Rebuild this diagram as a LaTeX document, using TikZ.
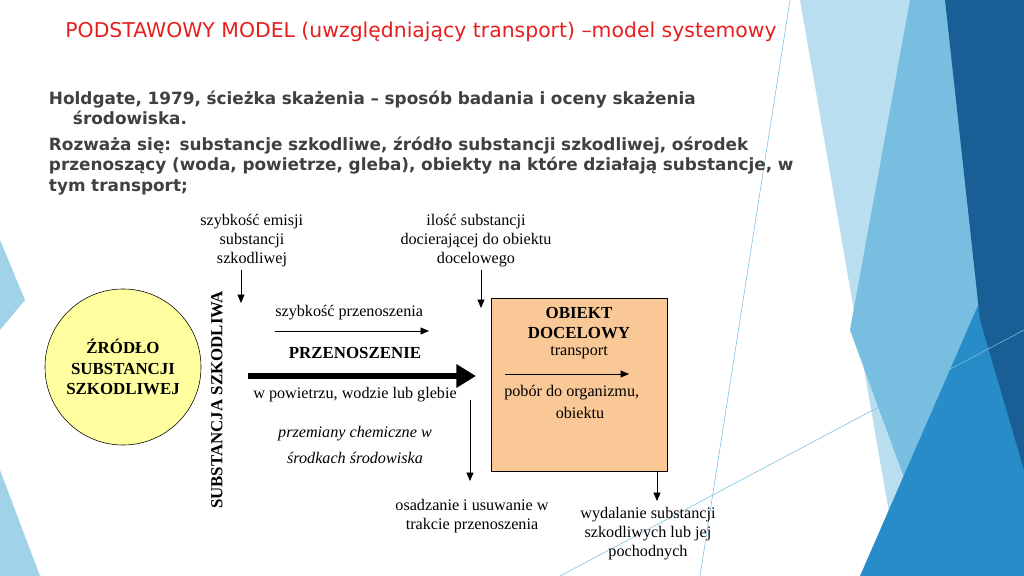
\documentclass[tikz,border=0pt]{standalone}
\usepackage{fontspec}
\setmainfont{Liberation Serif}
\newfontfamily\dejavu{DejaVu Sans}
\usetikzlibrary{arrows.meta}
\definecolor{titlered}{RGB}{230,30,30}
\definecolor{bodygray}{RGB}{64,64,64}
\definecolor{srcyellow}{RGB}{255,255,160}
\definecolor{boxorange}{RGB}{250,200,150}
\definecolor{bgA}{RGB}{120,190,225}
\definecolor{bgB}{RGB}{40,140,200}
\definecolor{bgC}{RGB}{185,222,240}
\definecolor{bgD}{RGB}{25,95,150}
\tikzset{
  lbl/.style={font=\fontsize{11.5}{13.5}\selectfont, align=center, inner sep=0pt},
  bold lbl/.style={lbl, font=\fontsize{12}{14.5}\selectfont\bfseries},
  flow/.style={-{Triangle[length=6pt,width=5pt]}, thin},
}
\begin{document}
\begin{tikzpicture}[x=0.025cm, y=-0.025cm]
        \useasboundingbox (0,0) rectangle (1024,576);
        % Background shards
        \fill[bgC] (800,0) -- (1024,0) -- (1024,576) -- (900,576) -- cycle;
        \fill[bgA] (910,0) -- (1024,0) -- (1024,576) -- (940,576) -- (850,330) -- cycle;
        \fill[bgB] (1024,200) -- (1024,576) -- (860,576) -- cycle;
        \fill[bgD] (945,0) -- (1024,0) -- (1024,470) -- (980,320) -- cycle;
        \fill[bgA!70] (0,240) -- (25,300) -- (0,330) -- cycle;
        \fill[bgA!70] (0,470) -- (40,576) -- (0,576) -- cycle;
        \draw[bgA, thin] (790,0) -- (700,576);
        \draw[bgA, thin] (560,576) -- (1024,330);
        % Heading
        \node[text=titlered, font=\dejavu\fontsize{14.5}{16}\selectfont] (title) at (421,32) {PODSTAWOWY MODEL (uwzględniający transport) –model systemowy};
        \node[anchor=north west, text=bodygray, font=\dejavu\bfseries\fontsize{12}{14.5}\selectfont, align=left, text width=19.5cm] (intro) at (44,86)
          {Holdgate, 1979, ścieżka skażenia – sposób badania i oceny skażenia\\\hspace*{0.6cm}środowiska.};
        \node[anchor=north west, text=bodygray, font=\dejavu\bfseries\fontsize{12}{14.5}\selectfont, align=left, text width=19.5cm] (scope) at (44,132)
          {Rozważa się: substancje szkodliwe, źródło substancji szkodliwej, ośrodek przenoszący (woda, powietrze, gleba), obiekty na które działają substancje, w tym transport;};
        % Source and target
        \node[circle, draw, fill=srcyellow, minimum size=3.9cm, bold lbl] (source) at (123,367) {ŹRÓDŁO\\SUBSTANCJI\\SZKODLIWEJ};
        \node[rotate=90, bold lbl] (agent) at (217,400) {SUBSTANCJA SZKODLIWA};
        \draw[fill=boxorange] (491,298) rectangle (667,471);
        \coordinate (boxbottom) at (657,471);
        \node[bold lbl] (target) at (579,323) {OBIEKT\\DOCELOWY};
        \node[lbl] (transport) at (579,353) {transport};
        % Labels
        \node[lbl, anchor=west] (emis1) at (200,222) {szybkość emisji};
        \node[lbl] (emis3) at (252,250) {substancji\\szkodliwej};
        \node[lbl] (qty) at (476,241) {ilość substancji\\docierającej do obiektu\\docelowego};
        \node[lbl, anchor=west] (rate) at (275,313) {szybkość przenoszenia};
        \node[bold lbl] (carry) at (355,353) {PRZENOSZENIE};
        \node[lbl] (media) at (355,395) {w powietrzu, wodzie lub glebie};
        \node[lbl, font=\fontsize{11.5}{19}\selectfont\itshape] (chem) at (355,445) {przemiany chemiczne w\\środkach środowiska};
        \node[lbl] (deposit) at (472,516) {osadzanie i usuwanie w\\trakcie przenoszenia};
        \node[lbl, anchor=west] (take) at (504,393) {pobór do organizmu,};
        \node[lbl] (take3) at (580,413) {obiektu};
        \node[lbl] (excrete) at (648,534) {wydalanie substancji\\szkodliwych lub jej\\pochodnych};
        % Arrows
        \coordinate (e0) at (241,270); \coordinate (e1) at (241,303);
        \draw[flow] (e0) -- (e1);
        \coordinate (q0) at (481,270); \coordinate (q1) at (481,308);
        \draw[flow] (q0) -- (q1);
        \coordinate (r0) at (275,331); \coordinate (r1) at (429,331);
        \draw[flow] (r0) -- (r1);
        \coordinate (m0) at (248,376); \coordinate (m1) at (476,376);
        \draw[line width=4pt, -{Triangle[length=14pt,width=16pt]}] (m0) -- (m1);
        \coordinate (d0) at (470,400); \coordinate (d1) at (470,481);
        \draw[flow] (d0) -- (d1);
        \coordinate (t0) at (505,374); \coordinate (t1) at (629,374);
        \draw[flow] (t0) -- (t1);
        \coordinate (x1) at (657,501);
        \draw[flow] (boxbottom) -- (x1);
\end{tikzpicture}
\end{document}
